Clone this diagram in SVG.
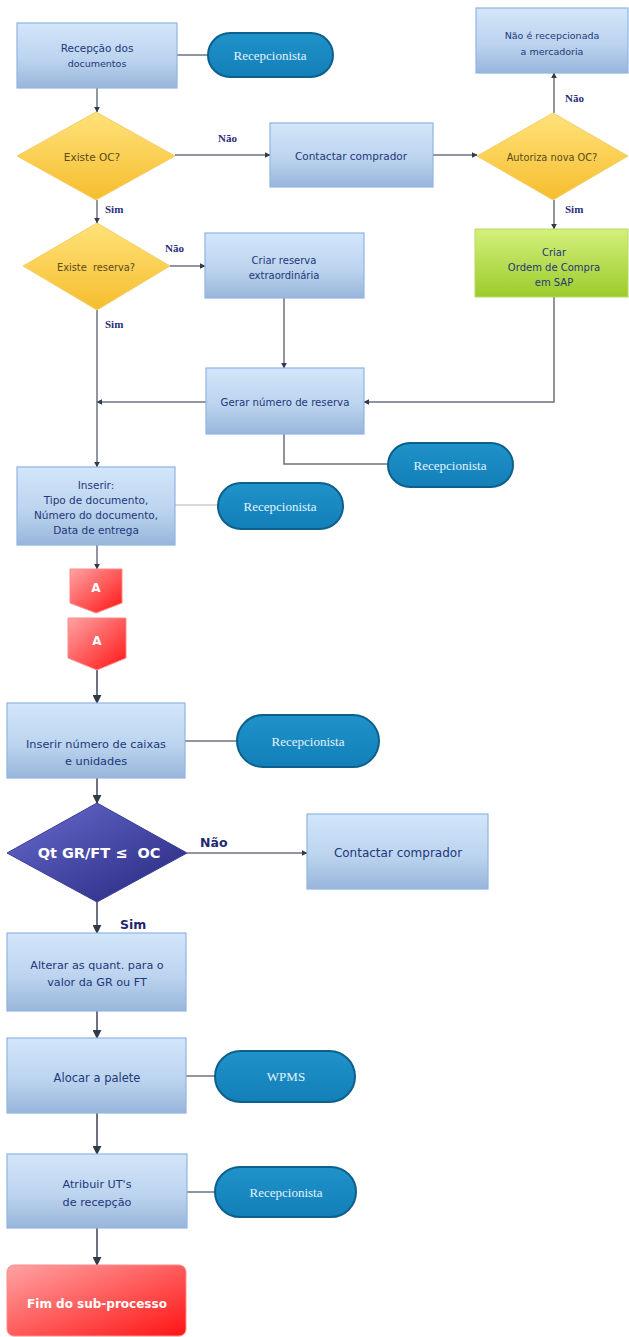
<svg xmlns="http://www.w3.org/2000/svg" width="629" height="1337" viewBox="0 0 629 1337">
  <defs>
    <linearGradient id="gBox" x1="0" y1="0" x2="0" y2="1">
      <stop offset="0" stop-color="#d3e6fa"/>
      <stop offset="0.55" stop-color="#bcd4ef"/>
      <stop offset="1" stop-color="#98b6da"/>
    </linearGradient>
    <linearGradient id="gYel" x1="0" y1="0" x2="0" y2="1">
      <stop offset="0" stop-color="#ffe27a"/>
      <stop offset="1" stop-color="#f6bd2e"/>
    </linearGradient>
    <linearGradient id="gGreen" x1="0" y1="0" x2="0" y2="1">
      <stop offset="0" stop-color="#d4f07c"/>
      <stop offset="1" stop-color="#9ccb2c"/>
    </linearGradient>
    <linearGradient id="gPill" x1="0" y1="0" x2="0" y2="1">
      <stop offset="0" stop-color="#1f93c9"/>
      <stop offset="1" stop-color="#137fb8"/>
    </linearGradient>
    <linearGradient id="gNavy" x1="0" y1="0" x2="1" y2="1">
      <stop offset="0" stop-color="#6a6cd0"/>
      <stop offset="1" stop-color="#24267c"/>
    </linearGradient>
    <linearGradient id="gRed" x1="0" y1="0" x2="1" y2="1">
      <stop offset="0" stop-color="#ffa3a3"/>
      <stop offset="1" stop-color="#ff1414"/>
    </linearGradient>
    <marker id="arr" viewBox="0 0 10 10" refX="9" refY="5" markerWidth="6" markerHeight="6" orient="auto" markerUnits="userSpaceOnUse">
      <path d="M0,0 L10,5 L0,10 z" fill="#2f3a4a"/>
    </marker>
    <marker id="arrL" viewBox="0 0 10 10" refX="9" refY="5" markerWidth="9" markerHeight="9" orient="auto" markerUnits="userSpaceOnUse">
      <path d="M0,0 L10,5 L0,10 z" fill="#2f3a4a"/>
    </marker>
  </defs>
  <style>
    .box { fill: url(#gBox); stroke: #8fb4e3; stroke-width: 1.2; }
    .yel { fill: url(#gYel); stroke: #f3cf6a; stroke-width: 1; }
    .green { fill: url(#gGreen); stroke: #b6dc5a; stroke-width: 1; }
    .pill { fill: url(#gPill); stroke: #0d5f8c; stroke-width: 2; }
    .navy { fill: url(#gNavy); stroke: #3a3c98; stroke-width: 1; }
    .red { fill: url(#gRed); stroke: #ff8a8a; stroke-width: 1; }
    .t { font-family: "DejaVu Sans", Verdana, sans-serif; fill: #24377a; text-anchor: middle; dominant-baseline: central; }
    .ty { font-family: "DejaVu Sans", Verdana, sans-serif; fill: #5a4a1e; text-anchor: middle; dominant-baseline: central; }
    .tp { font-family: "Liberation Serif", "DejaVu Serif", serif; fill: #e2f4ff; text-anchor: middle; dominant-baseline: central; font-size: 13px; }
    .tw { font-family: "DejaVu Sans", Verdana, sans-serif; fill: #ffffff; text-anchor: middle; dominant-baseline: central; font-weight: bold; }
    .lbl { font-family: "Liberation Serif", "DejaVu Serif", serif; fill: #2b2f7e; font-weight: bold; font-size: 11px; dominant-baseline: central; }
    .lbl2 { font-family: "DejaVu Sans", Verdana, sans-serif; fill: #1f2870; font-weight: bold; font-size: 12.5px; dominant-baseline: central; }
    .c { fill: none; stroke: #6b7280; stroke-width: 1.5; }
    .ca { fill: none; stroke: #6b7280; stroke-width: 1.5; marker-end: url(#arr); }
    .cb { fill: none; stroke: #5b6270; stroke-width: 1.8; marker-end: url(#arrL); }
    .cf { fill: none; stroke: #c9ccd2; stroke-width: 1.5; }
  </style>

  <!-- connectors -->
  <g id="connectors">
    <line class="ca" x1="97" y1="88" x2="97" y2="112"/>
    <line class="c" x1="177" y1="55" x2="208" y2="55"/>
    <line class="ca" x1="175" y1="155" x2="270" y2="155"/>
    <line class="ca" x1="433" y1="155" x2="477" y2="155"/>
    <line class="ca" x1="554" y1="113" x2="554" y2="73"/>
    <line class="ca" x1="554" y1="200" x2="554" y2="229"/>
    <line class="ca" x1="97" y1="200" x2="97" y2="223"/>
    <line class="ca" x1="170" y1="266" x2="205" y2="266"/>
    <line class="ca" x1="284" y1="298" x2="284" y2="368"/>
    <polyline class="ca" points="554,297 554,402 364,402"/>
    <line class="ca" x1="206" y1="402" x2="97" y2="402"/>
    <line class="ca" x1="97" y1="310" x2="97" y2="467"/>
    <polyline class="c" points="284,434 284,464 388,464"/>
    <line class="cf" x1="175" y1="505" x2="218" y2="505"/>
    <line class="ca" x1="97" y1="545" x2="97" y2="569"/>
    <line class="cb" x1="97" y1="670" x2="97" y2="703"/>
    <line class="c" x1="185" y1="741" x2="237" y2="741"/>
    <line class="cb" x1="97" y1="778" x2="97" y2="803"/>
    <line class="ca" x1="187" y1="853" x2="307" y2="853"/>
    <line class="cb" x1="97" y1="902" x2="97" y2="933"/>
    <line class="cb" x1="97" y1="1011" x2="97" y2="1038"/>
    <line class="c" x1="186" y1="1076" x2="215" y2="1076"/>
    <line class="cb" x1="97" y1="1113" x2="97" y2="1154"/>
    <line class="c" x1="187" y1="1192" x2="215" y2="1192"/>
    <line class="cb" x1="97" y1="1228" x2="97" y2="1265"/>
  </g>

  <!-- connector labels -->
  <g id="labels">
    <text class="lbl" x="218" y="138">Não</text>
    <text class="lbl" x="565" y="98">Não</text>
    <text class="lbl" x="565" y="209">Sim</text>
    <text class="lbl" x="105" y="209">Sim</text>
    <text class="lbl" x="165" y="248">Não</text>
    <text class="lbl" x="105" y="324">Sim</text>
    <text class="lbl2" x="200" y="842">Não</text>
    <text class="lbl2" x="120" y="924">Sim</text>
  </g>

  <g id="recepcao-docs">
    <rect class="box" x="17" y="23" width="160" height="65"/>
    <text class="t" font-size="10.5" x="97" y="48">Recepção dos</text>
    <text class="t" font-size="9.5" x="97" y="63">documentos</text>
  </g>
  <g id="pill-recepcionista-1">
    <rect class="pill" x="208" y="33" width="125" height="44" rx="22"/>
    <text class="tp" x="270" y="55">Recepcionista</text>
  </g>
  <g id="existe-oc">
    <polygon class="yel" points="96,112 175,156 96,200 17,156"/>
    <text class="ty" font-size="10.5" x="92" y="157">Existe OC?</text>
  </g>
  <g id="contactar-comprador-1">
    <rect class="box" x="270" y="123" width="163" height="64"/>
    <text class="t" font-size="10.5" x="351" y="156">Contactar comprador</text>
  </g>
  <g id="autoriza-nova-oc">
    <polygon class="yel" points="553,113 628,156 553,200 477,156"/>
    <text class="ty" font-size="9.8" x="552" y="157">Autoriza nova OC?</text>
  </g>
  <g id="nao-recepcionada">
    <rect class="box" x="476" y="8" width="152" height="65"/>
    <text class="t" font-size="9.5" x="552" y="35">Não é recepcionada</text>
    <text class="t" font-size="9.5" x="552" y="51">a mercadoria</text>
  </g>
  <g id="criar-oc-sap">
    <rect class="green" x="475" y="229" width="153" height="68"/>
    <text class="t" font-size="10" x="554" y="252">Criar</text>
    <text class="t" font-size="10" x="554" y="267">Ordem de Compra</text>
    <text class="t" font-size="10" x="554" y="282">em SAP</text>
  </g>
  <g id="existe-reserva">
    <polygon class="yel" points="97,223 170,266 97,310 23,266"/>
    <text class="ty" font-size="9.8" x="96" y="267" xml:space="preserve">Existe  reserva?</text>
  </g>
  <g id="criar-reserva">
    <rect class="box" x="205" y="233" width="159" height="65"/>
    <text class="t" font-size="10" x="284" y="260">Criar reserva</text>
    <text class="t" font-size="10" x="284" y="275">extraordinária</text>
  </g>
  <g id="gerar-reserva">
    <rect class="box" x="206" y="368" width="158" height="66"/>
    <text class="t" font-size="10.2" x="285" y="402">Gerar número de reserva</text>
  </g>
  <g id="pill-recepcionista-2">
    <rect class="pill" x="388" y="443" width="125" height="44" rx="22"/>
    <text class="tp" x="450" y="465">Recepcionista</text>
  </g>
  <g id="inserir-dados">
    <rect class="box" x="17" y="467" width="158" height="78"/>
    <text class="t" font-size="10.5" x="96" y="485">Inserir:</text>
    <text class="t" font-size="10.5" x="96" y="500">Tipo de documento,</text>
    <text class="t" font-size="10.5" x="96" y="515">Número do documento,</text>
    <text class="t" font-size="10.5" x="96" y="530">Data de entrega</text>
  </g>
  <g id="pill-recepcionista-3">
    <rect class="pill" x="218" y="483" width="125" height="46" rx="23"/>
    <text class="tp" font-size="12" x="280" y="506">Recepcionista</text>
  </g>
  <g id="conector-a-saida">
    <path class="red" d="M70,569 H122 V603 L96,613 L70,603 Z"/>
    <text class="tw" font-size="12" x="96" y="588">A</text>
  </g>
  <g id="conector-a-entrada">
    <path class="red" d="M68,618 H126 V658 L97,670 L68,658 Z"/>
    <text class="tw" font-size="12" x="97" y="641">A</text>
  </g>
  <g id="inserir-caixas">
    <rect class="box" x="7" y="703" width="178" height="75"/>
    <text class="t" font-size="11.3" x="96" y="744">Inserir número de caixas</text>
    <text class="t" font-size="11.3" x="96" y="761">e unidades</text>
  </g>
  <g id="pill-recepcionista-4">
    <rect class="pill" x="237" y="715" width="142" height="52" rx="26"/>
    <text class="tp" font-size="14" x="308" y="741">Recepcionista</text>
  </g>
  <g id="qt-gr-ft">
    <polygon class="navy" points="97,803 187,853 97,902 7,853"/>
    <text class="tw" font-size="14.5" x="99" y="853" xml:space="preserve">Qt GR/FT ≤  OC</text>
  </g>
  <g id="contactar-comprador-2">
    <rect class="box" x="307" y="814" width="181" height="75"/>
    <text class="t" font-size="12" x="398" y="853">Contactar comprador</text>
  </g>
  <g id="alterar-quant">
    <rect class="box" x="7" y="933" width="179" height="78"/>
    <text class="t" font-size="11.2" x="97" y="965">Alterar as quant. para o</text>
    <text class="t" font-size="11.2" x="97" y="982">valor da GR ou FT</text>
  </g>
  <g id="alocar-palete">
    <rect class="box" x="7" y="1038" width="179" height="75"/>
    <text class="t" font-size="11.5" x="97" y="1078">Alocar a palete</text>
  </g>
  <g id="pill-wpms">
    <rect class="pill" x="215" y="1051" width="140" height="51" rx="25.5"/>
    <text class="tp" font-size="15" x="286" y="1076">WPMS</text>
  </g>
  <g id="atribuir-ut">
    <rect class="box" x="7" y="1154" width="180" height="74"/>
    <text class="t" font-size="11.2" x="97" y="1184">Atribuir UT's</text>
    <text class="t" font-size="11.2" x="97" y="1202">de recepção</text>
  </g>
  <g id="pill-recepcionista-5">
    <rect class="pill" x="215" y="1167" width="141" height="50" rx="25"/>
    <text class="tp" font-size="14.5" x="286" y="1192">Recepcionista</text>
  </g>
  <g id="fim-subprocesso">
    <rect class="red" x="7" y="1265" width="179" height="71" rx="7"/>
    <text class="tw" font-size="12" x="97" y="1304">Fim do sub-processo</text>
  </g>
</svg>
